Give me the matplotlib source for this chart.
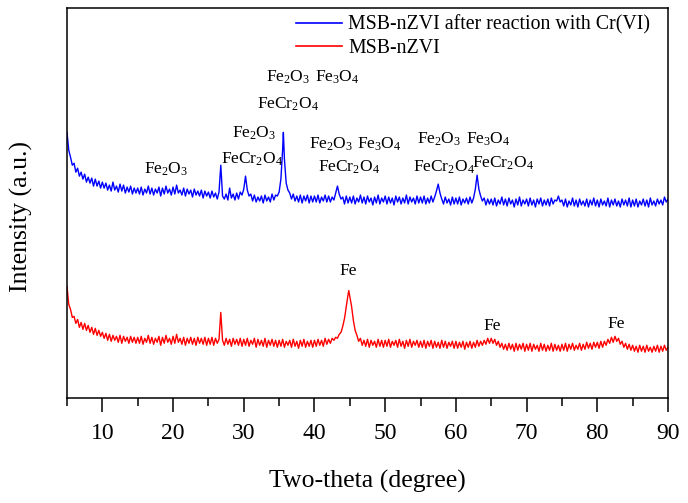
import numpy as np
import matplotlib
matplotlib.use("Agg")
import matplotlib.pyplot as plt

plt.rcParams['font.family'] = ['Liberation Serif', 'DejaVu Serif']
plt.rcParams['mathtext.fontset'] = 'custom'
plt.rcParams['mathtext.rm'] = 'Liberation Serif'
plt.rcParams['mathtext.it'] = 'Liberation Serif:italic'
plt.rcParams['mathtext.bf'] = 'Liberation Serif:bold'

# ---- data (intensity in arbitrary units) ----
# values on a 0.25 degree grid from 5.0 to 90.0, 20 values (5 degrees) per row
grid_start, grid_stop, grid_step = 5.0, 90.0, 0.25

blue_grid = [
    267, 249, 242, 234, 236, 227, 231, 223, 227, 220, 225, 217, 222, 216, 221, 213, 220, 213, 218, 211,  # 5
    217, 211, 216, 209, 214, 208, 217, 209, 213, 207, 215, 208, 214, 206, 212, 207, 213, 205, 211, 206,  # 10
    211, 205, 212, 204, 210, 206, 213, 205, 211, 204, 210, 206, 212, 203, 211, 205, 213, 206, 210, 204,  # 15
    212, 205, 214, 206, 209, 204, 211, 203, 210, 205, 209, 202, 210, 204, 208, 203, 209, 201, 208, 203,  # 20
    207, 201, 208, 202, 206, 200, 207, 234, 203, 200, 205, 199, 211, 201, 205, 199, 206, 200, 207, 204,  # 25
    210, 223, 209, 203, 205, 198, 204, 197, 202, 198, 203, 196, 204, 198, 202, 197, 205, 199, 204, 203,  # 30
    207, 220, 250, 240, 216, 209, 206, 200, 205, 198, 203, 197, 204, 196, 203, 198, 204, 196, 203, 197,  # 35
    203, 197, 204, 196, 202, 198, 204, 197, 203, 197, 202, 199, 206, 213, 205, 200, 202, 195, 203, 196,  # 40
    202, 196, 203, 195, 201, 197, 204, 196, 202, 195, 203, 197, 201, 194, 202, 196, 204, 195, 201, 197,  # 45
    203, 195, 202, 196, 201, 194, 203, 197, 202, 195, 201, 196, 204, 195, 202, 197, 201, 195, 203, 196,  # 50
    202, 196, 203, 195, 201, 196, 203, 197, 202, 208, 215, 206, 200, 195, 202, 196, 200, 194, 202, 195,  # 55
    201, 195, 202, 194, 200, 196, 201, 195, 202, 196, 201, 210, 224, 210, 203, 198, 201, 194, 200, 195,  # 60
    200, 194, 201, 193, 199, 195, 202, 194, 200, 193, 201, 195, 199, 192, 200, 194, 202, 193, 199, 195,  # 65
    200, 193, 201, 194, 199, 192, 200, 195, 201, 193, 199, 194, 200, 193, 201, 195, 199, 198, 203, 197,  # 70
    199, 193, 200, 192, 198, 194, 201, 193, 199, 192, 200, 194, 198, 193, 200, 192, 199, 194, 201, 193,  # 75
    199, 192, 200, 194, 198, 193, 201, 192, 199, 194, 200, 193, 198, 192, 200, 194, 199, 193, 201, 192,  # 80
    199, 193, 200, 192, 198, 194, 200, 193, 199, 192, 201, 194, 198, 193, 200, 195, 199, 194, 202, 197,  # 85
    200,                                                                                                 # 90
]
blue_peak_x = [35.6]
blue_peak_y = [267]

red_grid = [
    112, 94, 89, 81, 82, 75, 79, 71, 76, 69, 75, 68, 73, 66, 71, 64, 70, 63, 68, 62,  # 5
    66, 60, 65, 58, 64, 57, 63, 58, 62, 56, 63, 55, 62, 57, 61, 55, 62, 56, 61, 55,   # 10
    61, 55, 62, 54, 60, 56, 63, 55, 61, 54, 60, 56, 62, 53, 61, 55, 63, 56, 60, 54,   # 15
    62, 55, 64, 56, 60, 54, 61, 53, 60, 55, 61, 54, 60, 53, 61, 55, 60, 54, 61, 53,   # 20
    60, 54, 61, 53, 60, 55, 59, 86, 58, 53, 60, 54, 59, 52, 60, 54, 59, 53, 60, 52,   # 25
    59, 53, 60, 52, 58, 54, 60, 51, 59, 53, 58, 52, 60, 51, 58, 53, 59, 52, 58, 51,   # 30
    58, 52, 59, 51, 57, 53, 58, 51, 59, 52, 57, 50, 58, 52, 59, 51, 57, 52, 58, 51,   # 35
    58, 52, 59, 53, 58, 52, 60, 54, 59, 55, 60, 58, 61, 60, 64, 66, 72, 80, 92, 104,  # 40
    102, 92, 78, 68, 63, 57, 60, 53, 58, 52, 59, 51, 58, 53, 57, 51, 59, 52, 58, 51,  # 45
    58, 52, 59, 51, 57, 53, 58, 51, 59, 52, 57, 50, 58, 52, 59, 51, 57, 53, 58, 51,   # 50
    57, 51, 58, 50, 57, 52, 58, 50, 57, 51, 56, 50, 58, 51, 57, 50, 56, 52, 57, 50,   # 55
    57, 50, 56, 51, 57, 49, 56, 51, 57, 50, 56, 51, 58, 52, 57, 53, 58, 54, 60, 55,   # 60
    60, 55, 59, 53, 57, 51, 55, 49, 54, 48, 55, 49, 54, 47, 55, 48, 54, 49, 55, 47,   # 65
    54, 48, 55, 47, 54, 49, 53, 47, 55, 48, 54, 47, 53, 48, 55, 47, 54, 48, 53, 47,   # 70
    54, 48, 55, 47, 54, 49, 55, 48, 53, 49, 55, 48, 54, 49, 56, 50, 55, 49, 56, 51,   # 75
    56, 50, 57, 51, 57, 53, 59, 55, 61, 56, 62, 57, 60, 54, 57, 51, 55, 49, 54, 48,   # 80
    53, 47, 52, 46, 53, 47, 52, 46, 53, 47, 51, 46, 52, 47, 53, 46, 52, 47, 53, 48,   # 85
    51,                                                                               # 90
]
red_peak_x = [44.85]
red_peak_y = [108]

series_labels = ['MSB-nZVI after reaction with Cr(VI)', 'MSB-nZVI']

annot_text = ['Fe$_2$O$_3$', 'Fe$_2$O$_3$', 'FeCr$_2$O$_4$',
              'Fe$_2$O$_3$', 'Fe$_3$O$_4$', 'FeCr$_2$O$_4$',
              'Fe$_2$O$_3$', 'Fe$_3$O$_4$', 'FeCr$_2$O$_4$',
              'Fe$_2$O$_3$', 'Fe$_3$O$_4$', 'FeCr$_2$O$_4$', 'FeCr$_2$O$_4$',
              'Fe', 'Fe', 'Fe']
annot_x = [19.05, 31.4, 31.2, 36.3, 43.2, 36.2, 42.4, 49.2, 44.9, 57.6, 64.6, 58.3, 66.6, 44.8, 65.2, 82.7]
annot_y = [230, 266, 240, 322, 322, 295, 255, 255, 232, 260, 260, 232, 236, 128, 72, 74]

x_ticks = [10, 20, 30, 40, 50, 60, 70, 80, 90]


def merge(grid_vals, px, py):
    gx = np.arange(grid_start, grid_stop + grid_step / 2, grid_step)
    x = np.concatenate([gx, np.array(px)])
    y = np.concatenate([np.array(grid_vals, float), np.array(py, float)])
    order = np.argsort(x, kind='stable')
    return x[order], y[order]


bx, by = merge(blue_grid, blue_peak_x, blue_peak_y)
rx, ry = merge(red_grid, red_peak_x, red_peak_y)

fig = plt.figure(figsize=(6.88, 5.03), dpi=100)
ax = fig.add_axes([67 / 688, (503 - 398) / 503, 601 / 688, 390 / 503])

ax.plot(bx, by, color='#0000ff', lw=1.0, label=series_labels[0])
ax.plot(rx, ry, color='#ff0000', lw=1.0, label=series_labels[1])

for t, x, y in zip(annot_text, annot_x, annot_y):
    ax.text(x, y, t, ha='center', va='center', fontsize=12.5)

ax.set_xlim(5, 90)
ax.set_ylim(0, 392)
ax.set_xticks(x_ticks)
ax.set_xticks(np.arange(5, 91, 5), minor=True)
ax.set_yticks([])
ax.tick_params(axis='x', which='major', direction='out', length=10, width=1.1,
               labelsize=17, pad=8)
ax.tick_params(axis='x', which='minor', direction='out', length=5.5, width=1.1)
for s in ax.spines.values():
    s.set_linewidth(1.1)

ax.set_xlabel('Two-theta (degree)', fontsize=18.5, labelpad=19)
ax.set_ylabel('Intensity (a.u.)', fontsize=18.5)
ax.yaxis.set_label_coords(-0.057, 0.465)

leg = ax.legend(loc='upper right', bbox_to_anchor=(0.99, 1.012), frameon=False,
                fontsize=14.3, handlelength=2.3, handletextpad=0.3,
                labelspacing=0.2, borderaxespad=0.2)
for h in leg.get_lines():
    h.set_linewidth(1.2)

fig.savefig('out.png', dpi=100)
